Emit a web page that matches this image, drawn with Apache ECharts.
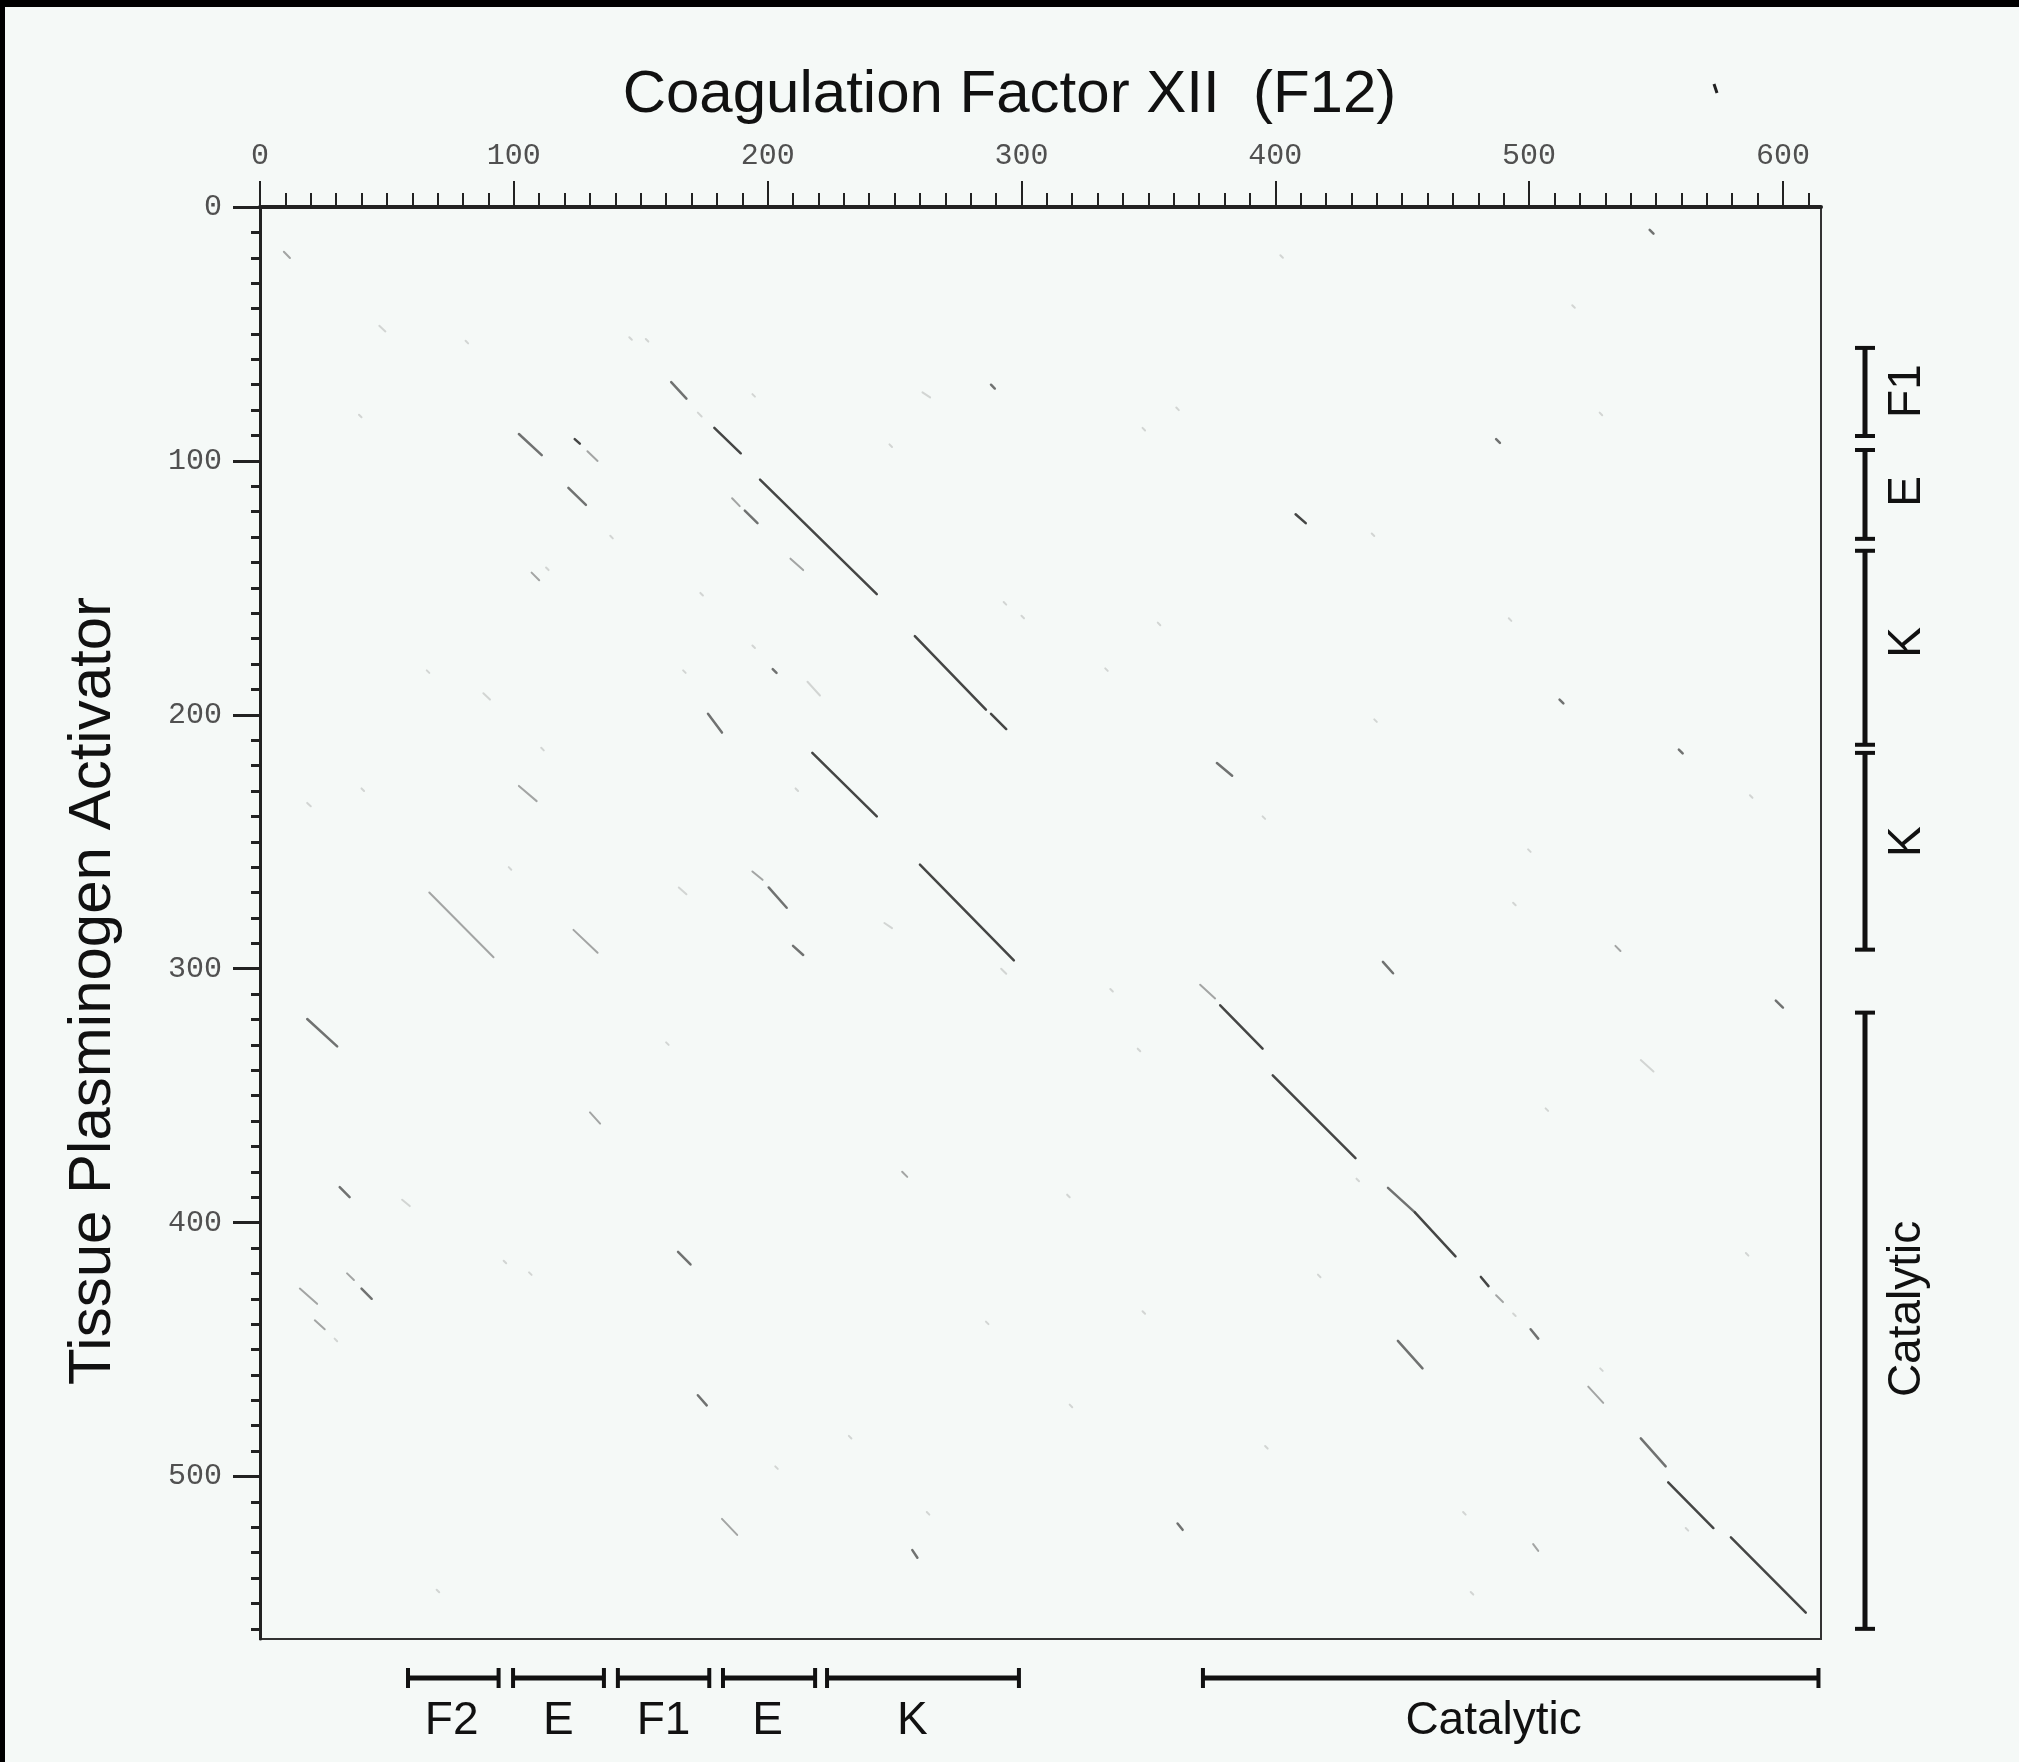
<!DOCTYPE html>
<html>
<head>
<meta charset="utf-8">
<script src="https://cdn.jsdelivr.net/npm/echarts@6/dist/echarts.min.js"></script>
<style>
html, body { margin: 0; padding: 0; background: #f5f9f7; }
#chart { width: 2019px; height: 1762px; }
</style>
</head>
<body>
<div id="chart"></div>
<script>
// axis ranges (residue numbers)
const xMax = 615;   // Coagulation Factor XII
const yMax = 564;   // Tissue Plasminogen Activator
const xMajorTicks = [0, 100, 200, 300, 400, 500, 600];
const yMajorTicks = [0, 100, 200, 300, 400, 500];

function range(from, to, step) {
    let out = [];
    for (let v = from; v <= to; v += step) out.push(v);
    return out;
}
const xMinorTicks = range(0, 610, 10);
const yMinorTicks = range(0, 560, 10);

// dot plot diagonals: [x1, y1, x2, y2] in residues
const darkSegments = [
    [179, 87, 189.4, 97], [197, 107.4, 243, 152.5], [258, 169, 286, 198], [288, 199.6, 294, 205.6],
    [217.6, 215, 243, 240], [260, 259, 297, 296.7], [378.3, 314.4, 395, 331.5], [399, 342, 431.6, 374.6],
    [455, 396, 471, 413.3], [481, 421.4, 484, 425], [554.8, 502.3, 572.6, 520.3], [579.5, 524, 609, 553.6],
    [124, 91.4, 126, 93.2], [408, 121, 412, 124.5]
];
const mediumSegments = [
    [162, 69, 168, 75.5], [102, 89.4, 111, 97.7], [121.5, 110.6, 128.4, 117.3], [191, 119.6, 196, 124.5],
    [176.5, 199.6, 182, 207], [200.4, 268, 207.5, 276], [210, 291, 214, 294.6], [18.6, 319.8, 30.4, 330.6],
    [31.4, 386, 35.3, 390], [164.7, 411.5, 169.6, 416.5], [40, 426, 44, 430], [172.5, 468, 176, 472],
    [257, 529, 259, 532], [444.4, 386.3, 455, 396], [500.6, 442, 503.6, 445.7], [448.3, 446.6, 458, 457.4],
    [442.4, 297.3, 446.4, 301.8], [597.2, 312.6, 600, 315.3], [544, 485, 553.8, 496], [361.5, 518.5, 363.5, 521],
    [377, 219, 383, 224], [288, 70, 289.5, 71.5], [202, 182, 203.5, 183.5], [512, 194, 513.5, 195.5],
    [559, 213.7, 560.5, 215.2], [547.5, 9, 549, 10.5], [487, 91.4, 488.5, 92.9]
];
const lightSegments = [
    [102, 228, 109, 234], [107, 144, 110, 147], [66.7, 270, 92, 295.5], [123.5, 284.7, 133, 293.7],
    [130, 356.6, 134, 361], [34.3, 420, 37, 422.6], [15.7, 426, 22.5, 432], [21.6, 438.5, 25.5, 442],
    [182, 516.7, 188, 523], [129, 96.2, 133, 100], [9.4, 17.6, 11.8, 20.1], [186, 114.7, 189, 117.8],
    [523.3, 464.6, 529.2, 471], [501.6, 526.6, 503.6, 529.3], [370.4, 306.3, 376.3, 311.7], [534, 291, 536, 293],
    [209, 138.5, 214, 143], [194, 261.7, 198, 265], [487, 428.6, 489.7, 431.3], [253, 380, 255, 382]
];
const faintSegments = [
    [47, 46.8, 49.4, 49], [81, 52.7, 82, 53.7], [145.5, 51.3, 146.5, 52.3], [152, 52, 153, 53],
    [172.5, 81, 174, 82.5], [39, 81.8, 40, 82.8], [138, 129.5, 139, 130.5], [211, 229, 212, 230],
    [165, 268, 168, 270.7], [98, 260, 99, 261], [40, 229, 41, 230], [18.6, 234.7, 20, 236],
    [65.7, 182.5, 66.7, 183.5], [88, 191.5, 90.6, 194], [110.8, 213, 111.8, 214], [215.7, 187, 220.6, 192.4],
    [194, 172.7, 195, 173.7], [166.7, 182.5, 167.7, 183.5], [173.5, 152, 174.5, 153], [112.7, 142, 113.7, 143],
    [194, 73.7, 195, 74.7], [248, 93.5, 249, 94.5], [293, 155.6, 294, 156.6], [261, 73, 264, 75],
    [292, 300, 294, 302], [246, 282, 249, 284], [160, 329, 161, 330], [56, 391, 59, 393.5],
    [96, 415, 97, 416], [106, 419.6, 107, 420.6], [29.4, 445.7, 30.4, 446.7], [286, 439, 287, 440],
    [232, 484, 233, 485], [203, 496, 204, 497], [262.7, 514, 263.7, 515], [69.6, 544.6, 70.6, 545.6],
    [402, 19, 403, 20], [517, 38.7, 518, 39.7], [361, 79, 362, 80], [347.7, 87, 348.7, 88],
    [527.8, 81, 528.8, 82], [438, 128.6, 439, 129.6], [492, 162, 493, 163], [587, 231.7, 588, 232.7],
    [395, 240, 396, 241], [499.6, 253, 500.6, 254], [493.7, 274, 494.7, 275], [439, 201.8, 440, 202.8],
    [333, 181.7, 334, 182.7], [353.7, 163.7, 354.7, 164.7], [432, 382.7, 433, 383.7], [544, 336, 549, 340.5],
    [506.5, 355, 507.5, 356], [528, 457.4, 529, 458.4], [561.7, 520.3, 562.7, 521.3], [477, 545.5, 478, 546.5],
    [318, 389, 319, 390], [335, 308, 336, 309], [345.8, 331.5, 346.8, 332.5], [585.4, 412, 586.4, 413],
    [416.8, 420.5, 417.8, 421.5], [474, 514, 475, 515], [396, 488, 397, 489], [347.7, 434.9, 348.7, 435.9],
    [319, 471.7, 320, 472.7], [493.7, 435.8, 494.7, 436.8], [300, 161, 301, 162]
];

// domain bars (start, end, where the label sits) in residues
const bottomDomains = ['F2', 'E', 'F1', 'E', 'K', 'Catalytic'];
const bottomStart = [58.3, 99.7, 141, 182.4, 223.4, 371.5];
const bottomEnd = [94, 135.5, 177, 218.7, 299, 614];
const bottomLabelAt = [75.5, 117.5, 159, 200, 257, 486];
const rightDomains = ['F1', 'E', 'K', 'K', 'Catalytic'];
const rightStart = [55.5, 95.7, 135.4, 215, 317.3];
const rightEnd = [90.2, 130.7, 211.8, 292.5, 560];
const rightLabelAt = [72.5, 112, 171.5, 250, 434];

const labelFont = '46px "Liberation Sans", Arial, sans-serif';
const ink = '#111';

function segmentRenderer(color, width) {
    return function(params, api) {
        let a = api.coord([api.value(0), api.value(1)]);
        let b = api.coord([api.value(2), api.value(3)]);
        return {
            type: 'line',
            shape: { x1: a[0], y1: a[1], x2: b[0], y2: b[1] },
            style: { stroke: color, lineWidth: width, lineCap: 'round' }
        };
    };
}

function renderBottomDomain(params, api) {
    let a = api.coord([api.value(0), 0.5]);
    let b = api.coord([api.value(1), 0.5]);
    let t = api.coord([api.value(2), 0.5]);
    return {
        type: 'group',
        children: [
            { type: 'line', shape: { x1: a[0], y1: a[1], x2: b[0], y2: b[1] }, style: { stroke: ink, lineWidth: 5 } },
            { type: 'line', shape: { x1: a[0], y1: a[1] - 10, x2: a[0], y2: a[1] + 10 }, style: { stroke: ink, lineWidth: 4 } },
            { type: 'line', shape: { x1: b[0], y1: b[1] - 10, x2: b[0], y2: b[1] + 10 }, style: { stroke: ink, lineWidth: 4 } },
            { type: 'text', x: t[0], y: a[1] + 43,
              style: { text: bottomDomains[params.dataIndex], font: labelFont, fill: ink, align: 'center', verticalAlign: 'middle' } }
        ]
    };
}

function renderRightDomain(params, api) {
    let a = api.coord([0.5, api.value(0)]);
    let b = api.coord([0.5, api.value(1)]);
    let t = api.coord([0.5, api.value(2)]);
    return {
        type: 'group',
        children: [
            { type: 'line', shape: { x1: a[0], y1: a[1], x2: b[0], y2: b[1] }, style: { stroke: ink, lineWidth: 5 } },
            { type: 'line', shape: { x1: a[0] - 10, y1: a[1], x2: a[0] + 10, y2: a[1] }, style: { stroke: ink, lineWidth: 4 } },
            { type: 'line', shape: { x1: b[0] - 10, y1: b[1], x2: b[0] + 10, y2: b[1] }, style: { stroke: ink, lineWidth: 4 } },
            { type: 'text', x: a[0] + 42, y: t[1], rotation: Math.PI / 2,
              style: { text: rightDomains[params.dataIndex], font: labelFont, fill: ink, align: 'center', verticalAlign: 'middle' } }
        ]
    };
}

const tickFont = { fontFamily: '"Liberation Mono", "DejaVu Sans Mono", monospace', fontSize: 30, color: '#505050' };

let chart = echarts.init(document.getElementById('chart'));
chart.setOption({
    backgroundColor: '#f5f9f7',
    animation: false,
    title: {
        text: 'Coagulation Factor XII  (F12)',
        left: 'center',
        top: 60,
        textStyle: { fontFamily: '"Liberation Sans", Arial, sans-serif', fontSize: 60, fontWeight: 'normal', color: ink }
    },
    grid: [
        { left: 260, top: 207, width: 1561, height: 1432, show: true, borderColor: '#333', borderWidth: 2, backgroundColor: 'transparent' },
        { left: 260, top: 1668, width: 1561, height: 20 },
        { left: 1845, top: 207, width: 40, height: 1432 }
    ],
    xAxis: [
        {
            gridIndex: 0, type: 'value', position: 'top', min: 0, max: xMax,
            axisLine: { show: true, lineStyle: { color: '#222', width: 4 } },
            axisTick: { show: true, customValues: xMajorTicks, length: 26, lineStyle: { color: '#222', width: 2 } },
            axisLabel: { show: true, customValues: xMajorTicks, margin: 36, ...tickFont },
            splitLine: { show: false }
        },
        {
            gridIndex: 0, type: 'value', position: 'top', min: 0, max: xMax,
            axisLine: { show: false },
            axisTick: { show: true, customValues: xMinorTicks, length: 14, lineStyle: { color: '#222', width: 2 } },
            axisLabel: { show: false },
            splitLine: { show: false }
        },
        { gridIndex: 1, type: 'value', min: 0, max: xMax, show: false },
        { gridIndex: 2, type: 'value', min: 0, max: 1, show: false }
    ],
    yAxis: [
        {
            gridIndex: 0, type: 'value', position: 'left', inverse: true, min: 0, max: yMax,
            axisLine: { show: true, lineStyle: { color: '#222', width: 3 } },
            axisTick: { show: true, customValues: yMajorTicks, length: 27, lineStyle: { color: '#222', width: 3 } },
            axisLabel: { show: true, customValues: yMajorTicks, margin: 38, ...tickFont },
            splitLine: { show: false }
        },
        {
            gridIndex: 0, type: 'value', position: 'left', inverse: true, min: 0, max: yMax,
            axisLine: { show: false },
            axisTick: { show: true, customValues: yMinorTicks, length: 9, lineStyle: { color: '#222', width: 3 } },
            axisLabel: { show: false },
            splitLine: { show: false }
        },
        { gridIndex: 1, type: 'value', min: 0, max: 1, show: false },
        { gridIndex: 2, type: 'value', inverse: true, min: 0, max: yMax, show: false }
    ],
    graphic: [
        { type: 'rect', left: 0, top: 0, shape: { width: 2019, height: 7 }, style: { fill: '#000' } },
        { type: 'rect', left: 0, top: 0, shape: { width: 5, height: 1762 }, style: { fill: '#000' } },
        { type: 'text', x: 93, y: 991, rotation: Math.PI / 2,
          style: { text: 'Tissue Plasminogen Activator', font: '60px "Liberation Sans", Arial, sans-serif', fill: ink, align: 'center', verticalAlign: 'middle' } },
        { type: 'line', shape: { x1: 1714, y1: 84, x2: 1717, y2: 93 }, style: { stroke: '#222', lineWidth: 3 } }
    ],
    series: [
        { type: 'custom', xAxisIndex: 0, yAxisIndex: 0, clip: true, silent: true, renderItem: segmentRenderer('#d2d5d3', 2), data: faintSegments },
        { type: 'custom', xAxisIndex: 0, yAxisIndex: 0, clip: true, silent: true, renderItem: segmentRenderer('#a3a5a4', 2), data: lightSegments },
        { type: 'custom', xAxisIndex: 0, yAxisIndex: 0, clip: true, silent: true, renderItem: segmentRenderer('#707271', 2.5), data: mediumSegments },
        { type: 'custom', xAxisIndex: 0, yAxisIndex: 0, clip: true, silent: true, renderItem: segmentRenderer('#454645', 2.5), data: darkSegments },
        { type: 'custom', xAxisIndex: 2, yAxisIndex: 2, silent: true, renderItem: renderBottomDomain,
          data: bottomStart.map((s, i) => [s, bottomEnd[i], bottomLabelAt[i]]) },
        { type: 'custom', xAxisIndex: 3, yAxisIndex: 3, silent: true, renderItem: renderRightDomain,
          data: rightStart.map((s, i) => [s, rightEnd[i], rightLabelAt[i]]) }
    ]
});
</script>
</body>
</html>
